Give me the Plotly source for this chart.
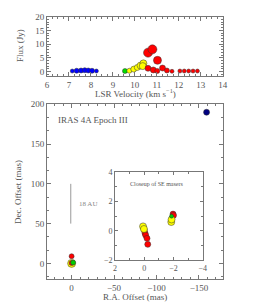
import plotly.graph_objects as go

# ---------------- data ----------------
# top panel: LSR velocity (km/s) vs flux (Jy)
blue_v = [7.15, 7.35, 7.55, 7.72, 7.88, 8.05, 8.25]
blue_f = [0.2, 0.3, 0.4, 0.5, 0.4, 0.3, 0.2]
blue_s = [4, 5, 5, 5, 5, 5, 4]

green_v = [9.55]
green_f = [0.2]
green_s = [5]

yellow_v = [9.75, 9.95, 10.11, 10.26, 10.39, 10.36]
yellow_f = [0.3, 0.9, 1.5, 2.2, 3.0, 2.0]
yellow_s = [5, 6, 6, 7, 7, 7]

red_v = [10.6, 10.8, 11.03, 10.6, 10.84, 11.02, 11.26, 11.46, 11.69,
         12.05, 12.25, 12.45, 12.65, 12.85]
red_f = [6.9, 8.1, 4.1, 1.2, 0.6, 0.25, 1.3, 0.4, 0.1,
         0.2, 0.2, 0.2, 0.2, 0.2]
red_s = [9, 9, 8, 6, 6, 5, 6, 5, 4,
         4, 4, 4, 4, 4]

# bottom panel: positions (mas)
main_ra = [0.0, 0.0, 0.0, -1.8, -159.0]
main_dec = [9.0, 0.0, 0.5, 1.0, 190.0]
main_col = ["#ff0000", "#ffff00", "#ff0000", "#00cc00", "#000080"]
main_size = [5, 8, 5, 5, 6]

# inset: closeup of SE masers (mas)
in_yel_ra = [0.08, 0.02, -1.85, -1.87]
in_yel_dec = [0.3, 0.12, 0.6, 0.77]
in_red_ra = [0.0, -0.05, -0.1, -0.19, -0.24, -1.97, -2.0]
in_red_dec = [0.05, -0.15, -0.3, -0.52, -0.93, 1.14, 1.05]
in_grn_ra = [-1.87]
in_grn_dec = [1.0]

# ---------------- styling ----------------
W, H = 274, 308
FONT = "Liberation Serif"
GREY = "#555555"
AX = "#777777"
EDGE = dict(color="#333333", width=0.5)


def px_x(a, b):
    return [a / W, b / W]


def px_y(top, bottom):
    return [1 - bottom / H, 1 - top / H]


fig = go.Figure()

# top panel
for v, f, s, c in [(blue_v, blue_f, blue_s, "#0000ff"),
                   (green_v, green_f, green_s, "#00dd00"),
                   (yellow_v, yellow_f, yellow_s, "#ffff00"),
                   (red_v, red_f, red_s, "#ff0000")]:
    fig.add_trace(go.Scatter(x=v, y=f, mode="markers", xaxis="x", yaxis="y",
                             marker=dict(size=s, color=c, line=EDGE, opacity=1),
                             showlegend=False, hoverinfo="skip"))

# main bottom panel
fig.add_trace(go.Scatter(x=main_ra, y=main_dec, mode="markers", xaxis="x2", yaxis="y2",
                         marker=dict(size=main_size, color=main_col, line=EDGE, opacity=1),
                         showlegend=False, hoverinfo="skip"))
# scale bar 18 AU
fig.add_trace(go.Scatter(x=[1, 1], y=[50, 100], mode="lines", xaxis="x2", yaxis="y2",
                         line=dict(color="#999999", width=1),
                         showlegend=False, hoverinfo="skip"))

# inset
for ra, dec, c, s in [(in_red_ra, in_red_dec, "#ff0000", 6),
                      (in_yel_ra, in_yel_dec, "#ffff00", 7),
                      (in_grn_ra, in_grn_dec, "#00cc00", 4)]:
    fig.add_trace(go.Scatter(x=ra, y=dec, mode="markers", xaxis="x3", yaxis="y3",
                             marker=dict(size=s, color=c, line=EDGE, opacity=1),
                             showlegend=False, hoverinfo="skip"))

axis_common = dict(showgrid=False, zeroline=False, showline=True, linecolor=AX,
                   linewidth=1, mirror="ticks", ticks="inside", tickcolor=AX,
                   ticklen=4, automargin=False,
                   tickfont=dict(family=FONT, size=9, color=GREY))

fig.update_layout(
    width=W, height=H,
    margin=dict(l=0, r=0, t=0, b=0),
    paper_bgcolor="white", plot_bgcolor="white",
    xaxis=dict(axis_common, domain=px_x(47, 222.7), range=[6, 14], dtick=1,
               minor=dict(ticks="inside", ticklen=2, dtick=0.25, tickcolor=AX),
               anchor="y"),
    yaxis=dict(axis_common, domain=px_y(16.7, 75.7), range=[-1.5, 20], dtick=5,
               minor=dict(ticks="inside", ticklen=2, dtick=1, tickcolor=AX),
               anchor="x"),
    xaxis2=dict(axis_common, domain=px_x(47, 222.7), range=[29, -178],
                tickvals=[0, -50, -100, -150],
                ticktext=["0", "\u221250", "\u2212100", "\u2212150"],
                minor=dict(ticks="inside", ticklen=2, dtick=10, tickcolor=AX),
                anchor="y2"),
    yaxis2=dict(axis_common, domain=px_y(104.3, 279.3), range=[-20, 200], dtick=50,
                minor=dict(ticks="inside", ticklen=2, tick0=0, dtick=50 / 3, tickcolor=AX),
                anchor="x2"),
    xaxis3=dict(axis_common, domain=px_x(115, 202.7), range=[2, -4], dtick=2,
                tickfont=dict(family=FONT, size=8, color=GREY), ticklen=3,
                minor=dict(ticks="inside", ticklen=2, dtick=1, tickcolor=AX),
                anchor="y3"),
    yaxis3=dict(axis_common, domain=px_y(172.3, 260), range=[-2, 4], dtick=2,
                tickfont=dict(family=FONT, size=8, color=GREY), ticklen=3,
                minor=dict(ticks="inside", ticklen=2, dtick=1, tickcolor=AX),
                anchor="x3"),
)

ann = [
    dict(text="Flux (Jy)", x=20 / W, y=1 - 46 / H, textangle=-90, size=9),
    dict(text="LSR Velocity (km s<sup>\u22121</sup>)", x=135 / W, y=1 - 93 / H, size=9),
    dict(text="Dec. Offset (mas)", x=18 / W, y=1 - 192 / H, textangle=-90, size=9),
    dict(text="R.A. Offset (mas)", x=135 / W, y=1 - 297 / H, size=9),
]
annotations = []
for a in ann:
    sz = a.pop("size")
    annotations.append(dict(a, xref="paper", yref="paper", showarrow=False,
                            xanchor="center", yanchor="middle",
                            font=dict(family=FONT, size=sz, color=GREY)))
annotations.append(dict(text="IRAS 4A Epoch III", x=18, y=180, xref="x2", yref="y2",
                        showarrow=False, xanchor="left", yanchor="middle",
                        font=dict(family=FONT, size=9, color=GREY)))
annotations.append(dict(text="18 AU", x=-6, y=75, xref="x2", yref="y2",
                        showarrow=False, xanchor="left", yanchor="middle",
                        font=dict(family=FONT, size=7, color="#888888")))
annotations.append(dict(text="Closeup of SE masers", x=-0.82, y=3.18, xref="x3", yref="y3",
                        showarrow=False, xanchor="center", yanchor="middle",
                        font=dict(family=FONT, size=6, color=GREY)))
fig.update_layout(annotations=annotations)

fig.write_html("out.html", config={"displayModeBar": False},
               post_script="document.body.style.margin='0';document.body.style.padding='0';")
